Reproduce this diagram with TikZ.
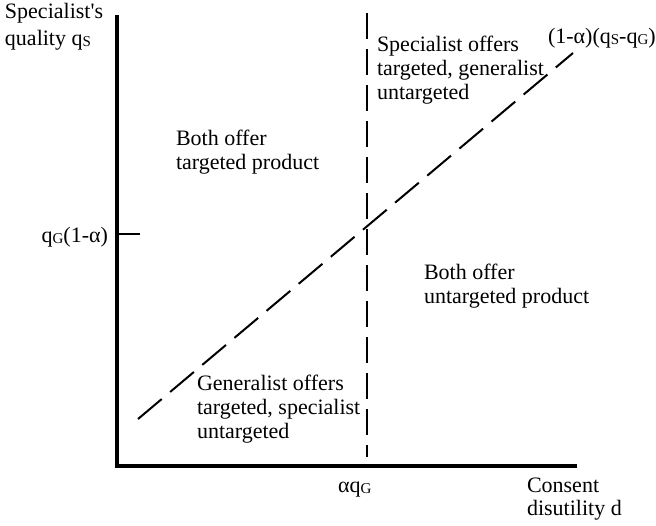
\documentclass[tikz,border=0pt]{standalone}
\usepackage{fontspec}
\setmainfont{Liberation Serif}
\newcommand{\subcap}[1]{\raisebox{-1.5pt}{\fontsize{15}{15}\selectfont #1}}
\begin{document}
\begin{tikzpicture}[x=1pt,y=-1pt,
  lbl/.style={inner sep=0pt,outer sep=0pt,align=left,font=\fontsize{22}{24.5}\selectfont},
  axis/.style={line width=4pt,line join=miter},
  dline/.style={line width=2pt,dash pattern=on 26pt off 10pt},
  dline2/.style={line width=2pt,dash pattern=on 31pt off 11pt}]
\useasboundingbox (0,0) rectangle (656,525);
\coordinate (ytop) at (117,15);
\coordinate (origin) at (117,466);
\coordinate (xend) at (577,466);
\coordinate (tickL) at (117,234);
\coordinate (tickR) at (140,234);
\coordinate (vtop) at (367,13);
\coordinate (vbot) at (367,457);
\coordinate (dlow) at (138,419);
\coordinate (dhigh) at (573,53);
\draw[axis] (ytop) -- (origin) -- (xend);
\draw[line width=2.2pt] (tickL) -- (tickR);
\draw[dline] (vtop) -- (vbot);
\draw[dline2] (dlow) -- (dhigh);
% multi-line nodes: base anchor is at the last line's baseline
\node[lbl,anchor=base west,font=\fontsize{22}{27}\selectfont] (ylab) at (5,45) {Specialist\textquotesingle s\\quality q\subcap{S}};
\node[lbl,anchor=base west] (tlab) at (548,43) {(1-α)(q\subcap{S}-q\subcap{G})};
\node[lbl,anchor=base west,font=\fontsize{22}{24}\selectfont] (regA) at (377,99) {Specialist offers\\targeted, generalist\\untargeted};
\node[lbl,anchor=base west] (regB) at (176,169.5) {Both offer\\targeted product};
\node[lbl,anchor=base east] (tickl) at (108,242) {q\subcap{G}(1-α)};
\node[lbl,anchor=base west] (regC) at (424,303.5) {Both offer\\untargeted product};
\node[lbl,anchor=base west,font=\fontsize{22}{24}\selectfont] (regD) at (197,438) {Generalist offers\\targeted, specialist\\untargeted};
\node[lbl,anchor=base west] (xtick) at (338,492) {αq\subcap{G}};
\node[lbl,anchor=base west,font=\fontsize{22}{23.5}\selectfont] (xlab) at (527,515.5) {Consent\\disutility d};
\end{tikzpicture}
\end{document}
